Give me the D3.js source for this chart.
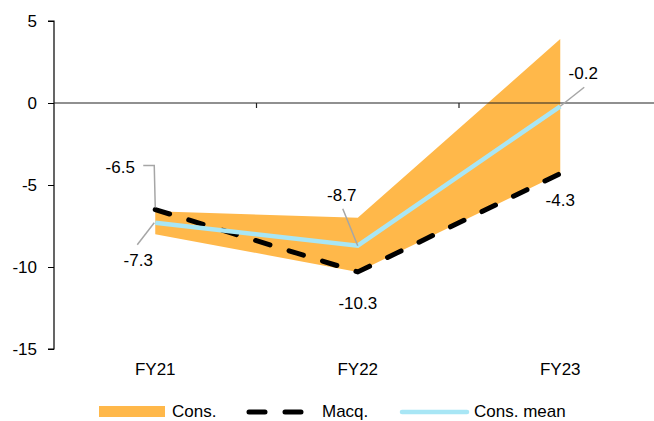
<!DOCTYPE html>
<html>
<head>
<meta charset="utf-8">
<script src="https://cdn.jsdelivr.net/npm/d3@7"></script>
<style>
  html, body { margin: 0; padding: 0; background: #fff; }
  svg text { font-family: "Liberation Sans", Arial, sans-serif; fill: #000; }
</style>
</head>
<body>
<svg id="chart" width="654" height="421"></svg>
<script>
// Fiscal years shown on the x axis
const categories = ["FY21", "FY22", "FY23"];
// Consensus range (high / low)
const consHigh = [-6.6, -7.0, 3.9];
const consLow = [-8.0, -10.3, -4.3];
// Macquarie estimates
const macq = [-6.5, -10.3, -4.3];
// Consensus mean
const consMean = [-7.3, -8.7, -0.2];
// Y axis ticks
const yTicks = [5, 0, -5, -10, -15];

// Plain hyphen-minus for negative numbers
d3.formatDefaultLocale({ decimal: ".", thousands: ",", grouping: [3], currency: ["$", ""], minus: "-" });

const svg = d3.select("#chart");
const fontSize = 17;

const x = d3.scaleBand().domain(categories).range([54, 661.5]);
const y = d3.scaleLinear().domain([-15, 5]).range([349, 21]);
const cx = c => x(c) + x.bandwidth() / 2;

const orange = "#FFB84A";
const blue = "#A8E6F5";

// Consensus band
const rows = categories.map((c, i) => ({ c, hi: consHigh[i], lo: consLow[i], m: macq[i], mean: consMean[i] }));
svg.append("path")
  .datum(rows)
  .attr("fill", orange)
  .attr("d", d3.area().x(d => cx(d.c)).y0(d => y(d.lo)).y1(d => y(d.hi)));

// Y axis
const yAxis = svg.append("g").attr("transform", "translate(54,0)")
  .call(d3.axisLeft(y).tickValues(yTicks).tickSize(6).tickFormat(d3.format("d")));
yAxis.select(".domain").attr("stroke", "#000").attr("stroke-width", 1.2)
  .attr("d", `M-6,${y(5)}H0V${y(-15)}H-6`);
yAxis.selectAll(".tick line").attr("stroke", "#000");
yAxis.selectAll(".tick text")
  .attr("font-size", fontSize).attr("font-family", "Liberation Sans, Arial, sans-serif")
  .attr("x", -17).attr("dy", "0.35em").attr("fill", "#000");

// Zero line with category dividers
svg.append("line")
  .attr("x1", 54).attr("x2", 654).attr("y1", y(0)).attr("y2", y(0))
  .attr("stroke", "#222").attr("stroke-width", 1.2);
const dividers = [x.range()[0] + x.bandwidth(), x.range()[0] + 2 * x.bandwidth()];
svg.selectAll(".div").data(dividers).enter().append("line")
  .attr("x1", d => d).attr("x2", d => d)
  .attr("y1", y(0)).attr("y2", y(0) + 5)
  .attr("stroke", "#222").attr("stroke-width", 1.2);

// Category labels
svg.selectAll(".cat").data(categories).enter().append("text")
  .attr("x", d => cx(d)).attr("y", 375)
  .attr("text-anchor", "middle").attr("font-size", fontSize)
  .text(d => d);

// Macquarie dashed line
svg.append("path")
  .datum(rows)
  .attr("fill", "none").attr("stroke", "#000").attr("stroke-width", 5)
  .attr("stroke-linecap", "round").attr("stroke-dasharray", "15,20")
  .attr("d", d3.line().x(d => cx(d.c)).y(d => y(d.m)));

// Consensus mean line
svg.append("path")
  .datum(rows)
  .attr("fill", "none").attr("stroke", blue).attr("stroke-width", 4.5)
  .attr("d", d3.line().x(d => cx(d.c)).y(d => y(d.mean)));

// Value labels with leader lines (offsets relative to the data point)
const leader = "#a6a6a6";
const labels = [
  { c: "FY21", v: macq[0], lx: -35, ly: -37, leaderPts: [[-12, -44], [-1, -44], [0, -2]] },
  { c: "FY21", v: consMean[0], lx: -17, ly: 43, leaderPts: [[-18, 22], [-1, 0]] },
  { c: "FY22", v: consMean[1], lx: -16, ly: -45, leaderPts: [[-15, -37], [0, 0]] },
  { c: "FY22", v: macq[1], lx: 0, ly: 37, leaderPts: null },
  { c: "FY23", v: consMean[2], lx: 23, ly: -27, leaderPts: [[24, -19], [0, 0]] },
  { c: "FY23", v: macq[2], lx: 0, ly: 32, leaderPts: null }
];
labels.forEach(l => {
  const px = cx(l.c), py = y(l.v);
  if (l.leaderPts) {
    svg.append("path")
      .attr("fill", "none").attr("stroke", leader).attr("stroke-width", 1.5)
      .attr("d", d3.line()(l.leaderPts.map(p => [px + p[0], py + p[1]])));
  }
  svg.append("text")
    .attr("x", px + l.lx).attr("y", py + l.ly)
    .attr("text-anchor", "middle").attr("font-size", fontSize)
    .text(d3.format(".1f")(l.v));
});

// Legend
const lg = svg.append("g");
lg.append("rect").attr("x", 99).attr("y", 406).attr("width", 66).attr("height", 11).attr("fill", orange);
lg.append("text").attr("x", 172).attr("y", 417).attr("font-size", fontSize).text("Cons.");
lg.append("line").attr("x1", 249).attr("x2", 301).attr("y1", 412).attr("y2", 412)
  .attr("stroke", "#000").attr("stroke-width", 5).attr("stroke-linecap", "round")
  .attr("stroke-dasharray", "16,20");
lg.append("text").attr("x", 322).attr("y", 417).attr("font-size", fontSize).text("Macq.");
lg.append("line").attr("x1", 402).attr("x2", 467).attr("y1", 412).attr("y2", 412)
  .attr("stroke", blue).attr("stroke-width", 4.5).attr("stroke-linecap", "round");
lg.append("text").attr("x", 474).attr("y", 417).attr("font-size", fontSize).text("Cons. mean");
</script>
</body>
</html>
